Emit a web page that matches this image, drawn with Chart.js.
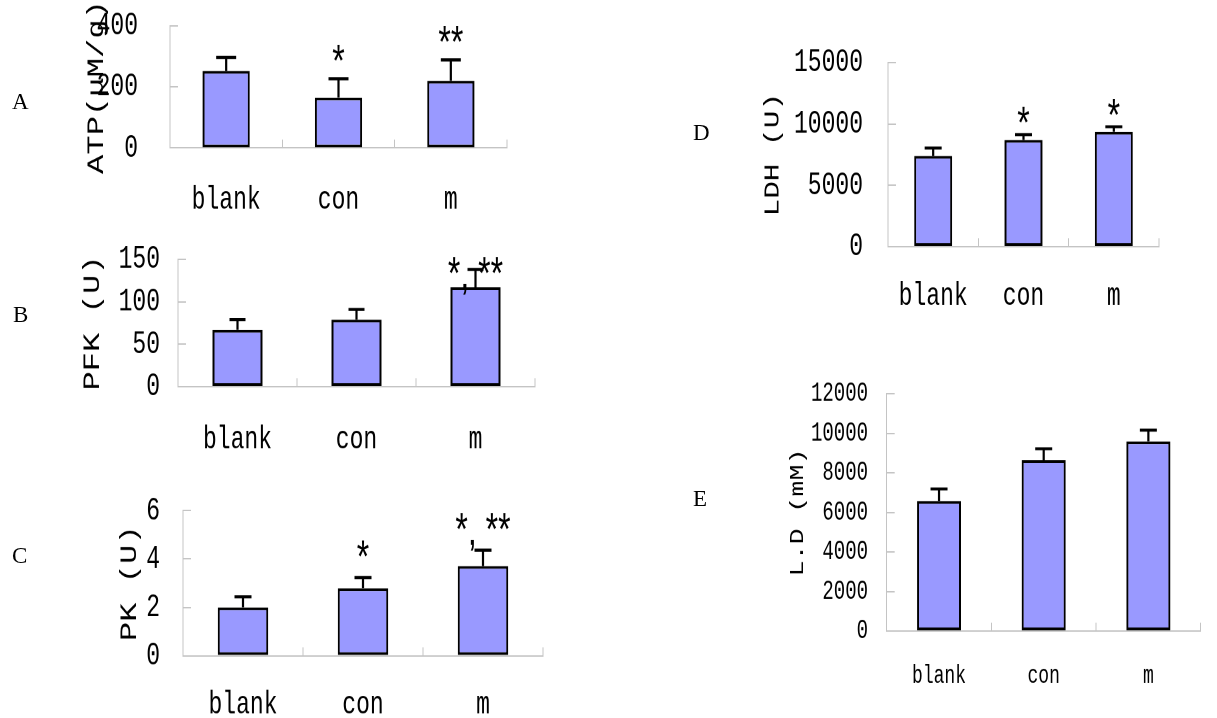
<!DOCTYPE html>
<html>
<head>
<meta charset="utf-8">
<script src="https://cdn.jsdelivr.net/npm/chart.js@4.4.1/dist/chart.umd.min.js"></script>
<style>
html,body{margin:0;padding:0;background:#fff;width:1217px;height:718px;overflow:hidden;}
.panel{position:absolute;transform-origin:0 0;}
.letter{position:absolute;font-family:'Liberation Serif','Times New Roman',serif;font-size:23px;line-height:23px;color:#000;z-index:5;}
</style>
</head>
<body>
<div class="letter" style="left:12px;top:90px">A</div>
<div class="letter" style="left:13px;top:303px">B</div>
<div class="letter" style="left:12px;top:544px">C</div>
<div class="letter" style="left:693px;top:121px">D</div>
<div class="letter" style="left:693px;top:487px">E</div>

<script>
// ---------- data ----------
const categories = ['blank', 'con', 'm'];

const atpValues = [253, 165, 220];
const atpErrors = [44, 62, 69];
const atpSig    = ['', '*', '**'];
const atpTicks  = [0, 200, 400];

const pfkValues = [67, 79, 117];
const pfkErrors = [12, 12, 21];
const pfkSig    = ['', '', '*, **'];
const pfkTicks  = [0, 50, 100, 150];

const pkValues = [2.0, 2.79, 3.71];
const pkErrors = [0.44, 0.44, 0.66];
const pkSig    = ['', '*', '*, **'];
const pkTicks  = [0, 2, 4, 6];

const ldhValues = [7400, 8700, 9380];
const ldhErrors = [650, 430, 400];
const ldhSig    = ['', '*', '*'];
const ldhTicks  = [0, 5000, 10000, 15000];

const ldValues = [6580, 8650, 9600];
const ldErrors = [610, 580, 570];
const ldSig    = ['', '', ''];
const ldTicks  = [0, 2000, 4000, 6000, 8000, 10000, 12000];

// ---------- layout / style ----------
const S = 1.4; // vertical stretch of the original figure
const MONO = "'Liberation Mono', 'DejaVu Sans Mono', monospace";

const panels = [
  {title:'ATP(μM/g)', values:atpValues, errors:atpErrors, sig:atpSig, ticks:atpTicks,
   box:{x:0,y:0,w:520,h:230}, area:{l:170,r:507,t:26,b:148}, labelY:200, tickRight:138, titleX:97,
   titleSize:23, tickSize:23, catSize:23, sigGap:28, cap:20},
  {title:'PFK (U)', values:pfkValues, errors:pfkErrors, sig:pfkSig, ticks:pfkTicks,
   box:{x:0,y:232,w:545,h:228}, area:{l:178,r:535,t:259.3,b:386.7}, labelY:440, tickRight:160, titleX:93,
   titleSize:23, tickSize:23, catSize:23, sigGap:6, cap:16},
  {title:'PK (U)', values:pkValues, errors:pkErrors, sig:pkSig, ticks:pkTicks,
   box:{x:0,y:488,w:555,h:230}, area:{l:183,r:543,t:510.7,b:655.7}, labelY:705, tickRight:160, titleX:130,
   titleSize:23, tickSize:23, catSize:23, sigGap:31, cap:17},
  {title:'LDH (U)', values:ldhValues, errors:ldhErrors, sig:ldhSig, ticks:ldhTicks,
   box:{x:680,y:36,w:490,h:290}, area:{l:888,r:1159,t:62.7,b:246.7}, labelY:296, tickRight:863, titleX:773,
   titleSize:21, tickSize:23, catSize:23, sigGap:22, cap:17},
  {title:'L.D (mM)', values:ldValues, errors:ldErrors, sig:ldSig, ticks:ldTicks,
   box:{x:680,y:372,w:532,h:330}, area:{l:886.7,r:1200.7,t:394,b:631}, labelY:676, tickRight:868, titleX:798,
   titleSize:19, tickSize:19, catSize:18, sigGap:22, cap:17}
];

const errorBarPlugin = {
  id: 'errorBars',
  afterDatasetsDraw(chart, args, opts) {
    const ctx = chart.ctx;
    const ys = chart.scales.y;
    const meta = chart.getDatasetMeta(0);
    const data = chart.data.datasets[0].data;
    ctx.save();
    ctx.strokeStyle = '#000';
    ctx.lineWidth = 2.2;
    meta.data.forEach((bar, i) => {
      const top = ys.getPixelForValue(data[i] + opts.errors[i]);
      ctx.beginPath();
      ctx.moveTo(bar.x, bar.y);
      ctx.lineTo(bar.x, top);
      ctx.moveTo(bar.x - opts.cap / 2, top);
      ctx.lineTo(bar.x + opts.cap / 2, top);
      ctx.stroke();
      const s = opts.sig[i];
      if (s) {
        const size = 32;
        ctx.fillStyle = '#000';
        ctx.font = size + "px 'Liberation Sans', Arial, sans-serif";
        ctx.textAlign = 'center';
        ctx.textBaseline = 'alphabetic';
        ctx.fillText(s, bar.x, top - opts.sigGap / S + 0.57 * size);
      }
    });
    ctx.restore();
  }
};

panels.forEach((p) => {
  const wrap = document.createElement('div');
  wrap.className = 'panel';
  wrap.style.left = p.box.x + 'px';
  wrap.style.top = p.box.y + 'px';
  wrap.style.transform = 'scaleY(' + S + ')';
  const cv = document.createElement('canvas');
  const h = Math.round(p.box.h / S);
  cv.width = p.box.w;
  cv.height = h;
  wrap.appendChild(cv);
  document.body.appendChild(wrap);

  const padTop = (p.area.t - p.box.y) / S;
  const axisTop = (p.area.b - p.box.y) / S;
  const xh = h - axisTop;
  const yw = p.area.l - p.box.x;
  const padRight = p.box.x + p.box.w - p.area.r;
  const tlX = -6, tlY = -8;
  const catLH = p.catSize * 1.2;
  const xPad = (p.labelY - p.box.y) / S - axisTop - tlX - catLH / 2;
  const yPad = yw - tlY - (p.tickRight - p.box.x);
  const titleLH = p.titleSize * 1.2;
  const titlePad = p.titleX - p.box.x - titleLH / 2;
  const tickArr = p.ticks;

  new Chart(cv, {
    type: 'bar',
    data: {
      labels: categories,
      datasets: [{
        data: p.values,
        backgroundColor: '#9999ff',
        borderColor: '#000000',
        borderWidth: 2,
        borderSkipped: false,
        barPercentage: 0.42,
        categoryPercentage: 1.0
      }]
    },
    options: {
      responsive: false,
      animation: false,
      devicePixelRatio: 2,
      layout: { padding: { top: padTop, right: padRight, left: 0, bottom: 0 } },
      plugins: {
        legend: { display: false },
        tooltip: { enabled: false },
        errorBars: { errors: p.errors, sig: p.sig, sigGap: p.sigGap, cap: p.cap }
      },
      scales: {
        x: {
          type: 'category',
          offset: true,
          grid: { display: true, offset: true, drawOnChartArea: false, drawTicks: true, tickLength: tlX, color: '#c4c4c4', lineWidth: 1 },
          border: { display: true, color: '#c4c4c4', width: 1 },
          ticks: { color: '#000', font: { family: MONO, size: p.catSize }, padding: xPad, maxRotation: 0, autoSkip: false },
          afterFit(s) { s.height = xh; s.paddingLeft = 0; s.paddingRight = 0; s.paddingTop = 0; s.paddingBottom = 0; }
        },
        y: {
          min: 0,
          max: tickArr[tickArr.length - 1],
          grid: { display: true, drawOnChartArea: false, drawTicks: true, tickLength: tlY, color: '#c4c4c4', lineWidth: 1 },
          border: { display: true, color: '#c4c4c4', width: 1 },
          ticks: { color: '#000', font: { family: MONO, size: p.tickSize }, padding: yPad, autoSkip: false, callback: (v) => String(v) },
          afterBuildTicks(s) { s.ticks = tickArr.map(v => ({ value: v })); },
          afterFit(s) { s.width = yw; s.paddingTop = 0; s.paddingBottom = 0; s.paddingLeft = 0; s.paddingRight = 0; },
          title: { display: true, text: p.title, color: '#000', font: { family: MONO, size: p.titleSize }, padding: { top: titlePad, bottom: 0 } }
        }
      }
    },
    plugins: [errorBarPlugin]
  });
});
</script>
</body>
</html>
